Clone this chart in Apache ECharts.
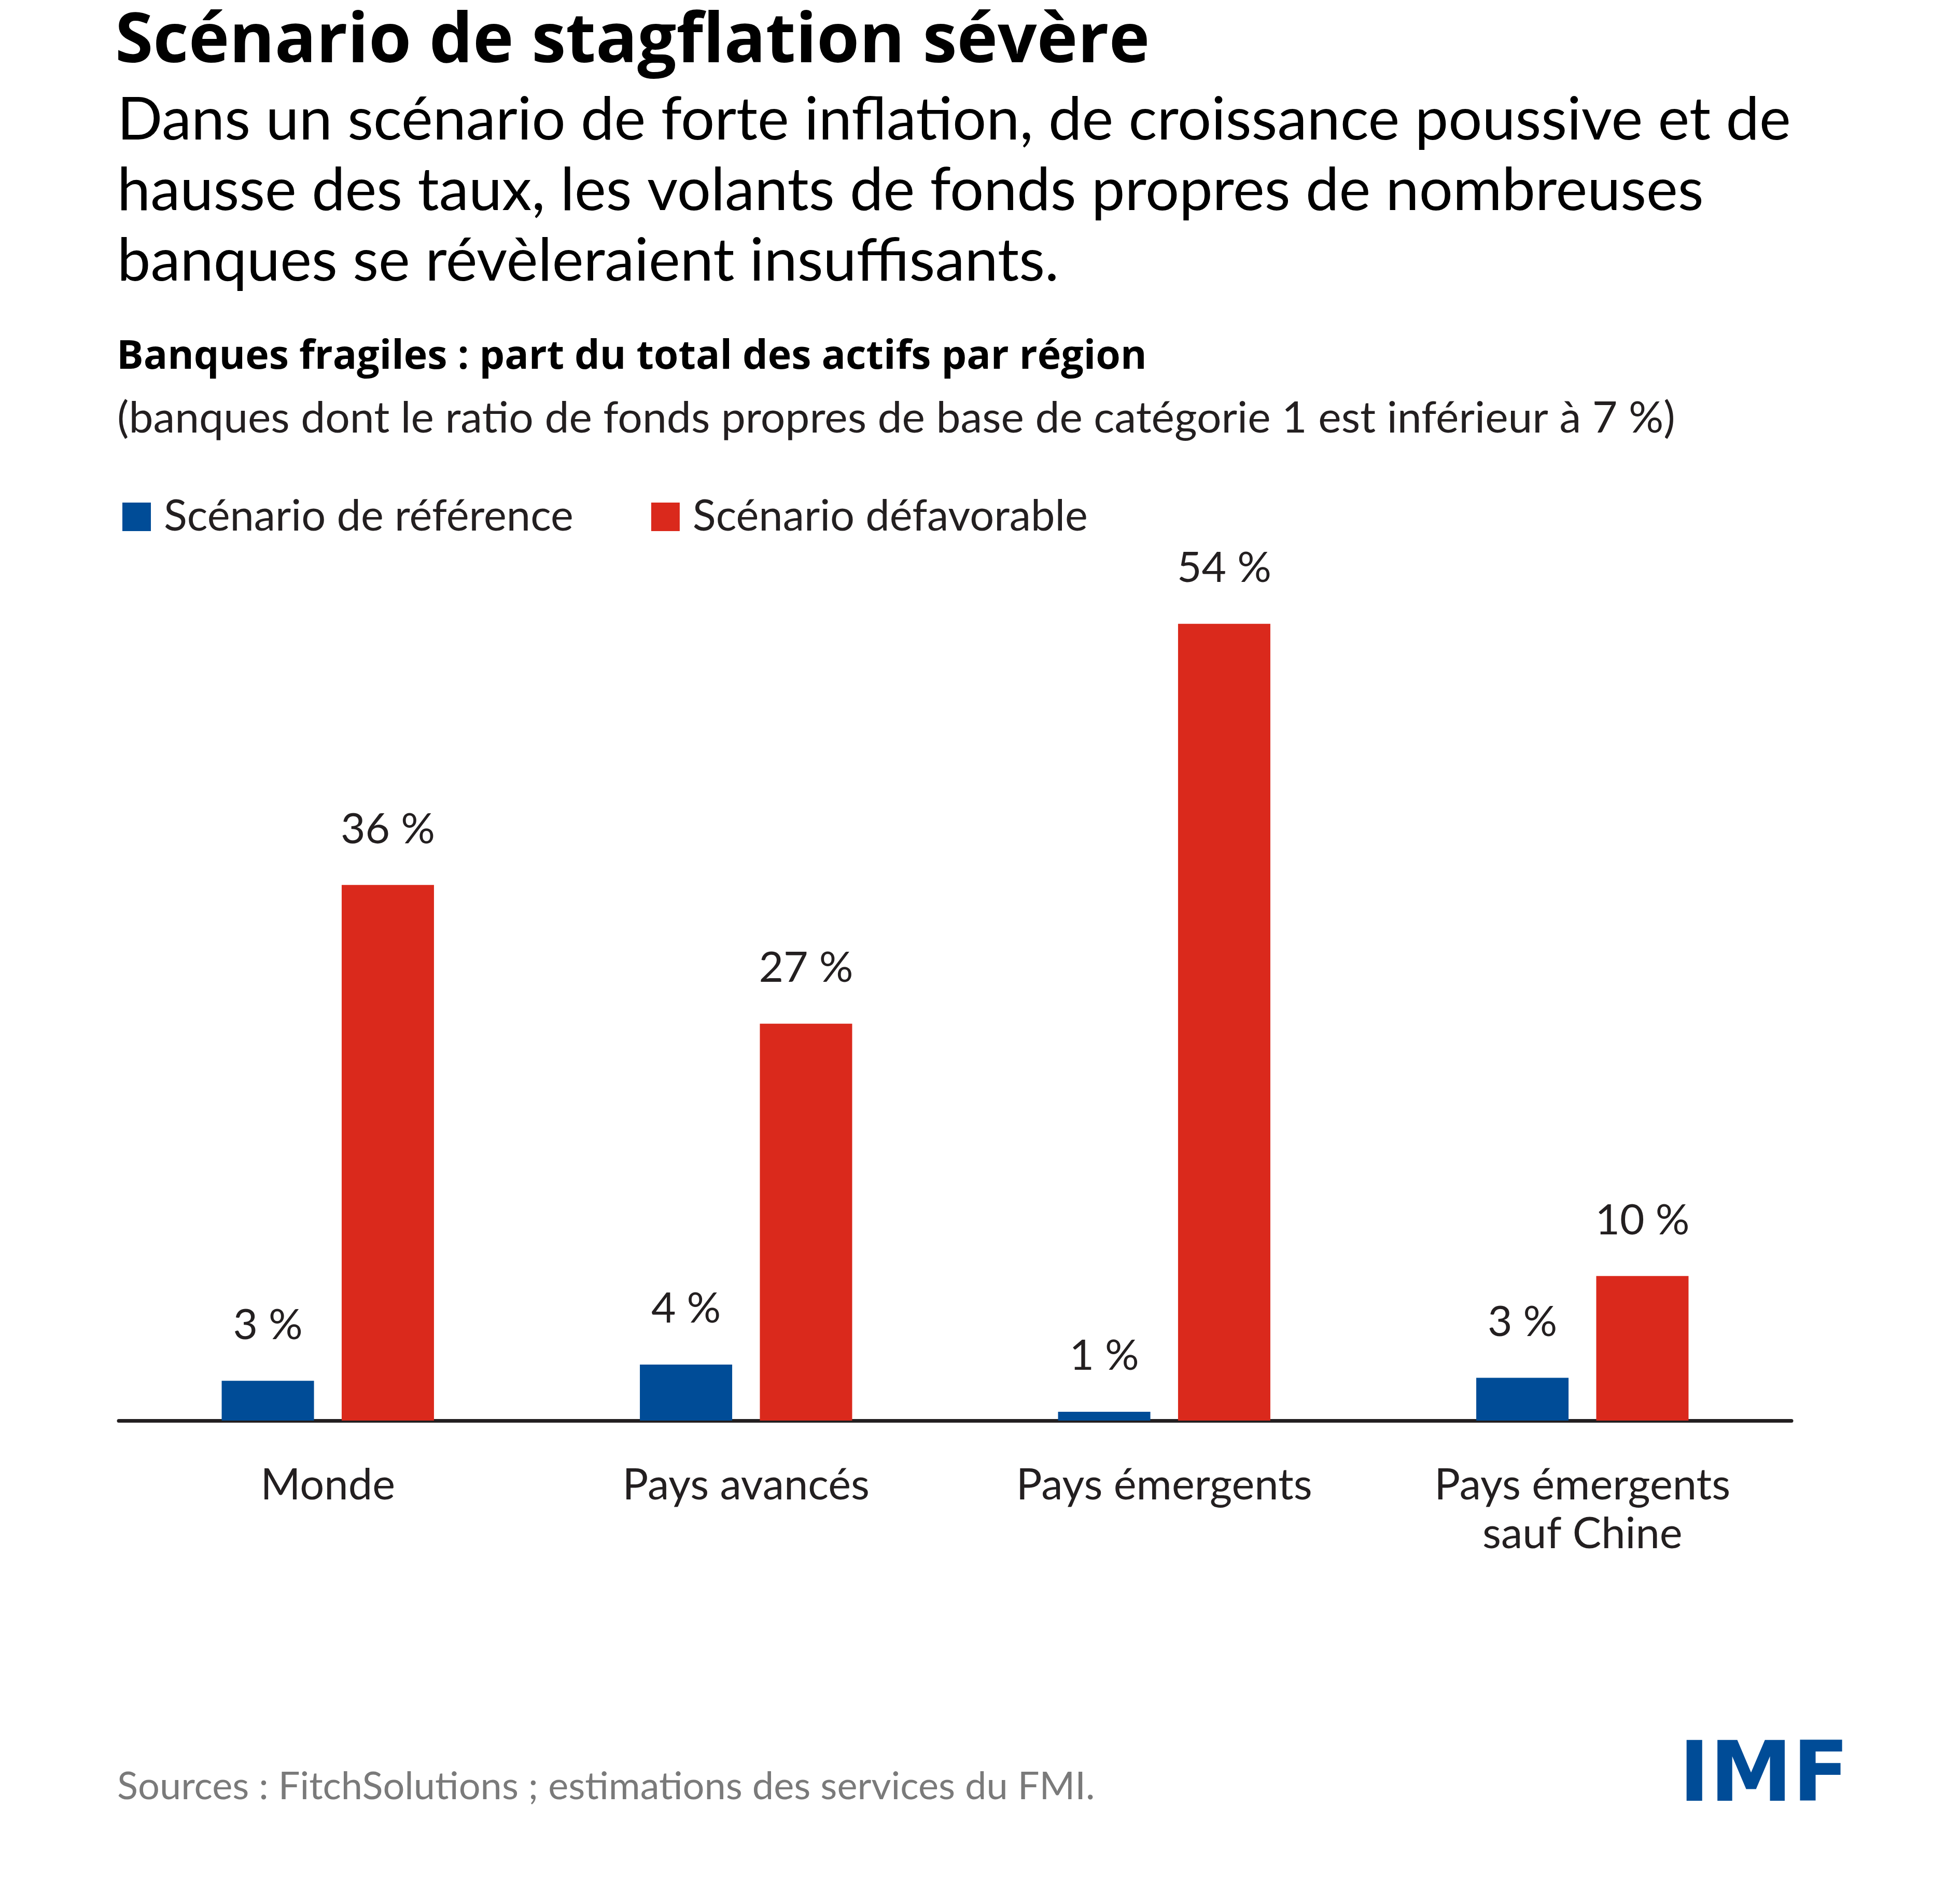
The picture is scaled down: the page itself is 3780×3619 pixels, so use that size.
<!DOCTYPE html>
<html>
<head>
<meta charset="utf-8">
<script src="https://cdn.jsdelivr.net/npm/echarts@6/dist/echarts.min.js"></script>
<style>
html,body{margin:0;padding:0;background:#fff;}
#chart{width:3780px;height:3619px;}
</style>
</head>
<body>
<div id="chart"></div>
<script>
const categories = ['Monde', 'Pays avancés', 'Pays émergents', 'Pays émergents\nsauf Chine'];
const seriesNames = ['Scénario de référence', 'Scénario défavorable'];
const referenceValues = [2.7, 3.8, 0.6, 2.9];
const adverseValues = [36.3, 26.9, 54.0, 9.8];
const referenceLabels = ['3 %', '4 %', '1 %', '3 %'];
const adverseLabels = ['36 %', '27 %', '54 %', '10 %'];

const FONT = 'Lato, "Open Sans", sans-serif';
const BOLDFONT = '"Open Sans", Lato, sans-serif';
const TXT = '#231f20';
const BLUE = '#004c97';
const RED = '#da291c';

const chart = echarts.init(document.getElementById('chart'), null, {renderer: 'canvas'});

const option = {
  backgroundColor: '#ffffff',
  animation: false,
  graphic: [
    {type: 'text', left: 222, top: 16, style: {text: 'Scénario de stagflation sévère', font: 'bold 133px ' + BOLDFONT, fill: '#000'}},
    {type: 'text', left: 226, top: 164, style: {text: 'Dans un scénario de forte inflation, de croissance poussive et de\nhausse des taux, les volants de fonds propres de nombreuses\nbanques se révèleraient insuffisants.', font: '115px ' + FONT, fill: '#000', lineHeight: 136}},
    {type: 'text', left: 225, top: 651, style: {text: 'Banques fragiles : part du total des actifs par région', font: 'bold 77px ' + BOLDFONT, fill: '#000'}},
    {type: 'text', left: 226, top: 765, style: {text: '(banques dont le ratio de fonds propres de base de catégorie 1 est inférieur à 7 %)', font: '84px ' + FONT, fill: TXT}},
    {type: 'text', left: 226, top: 3408, style: {text: 'Sources : FitchSolutions ; estimations des services du FMI.', font: '74px ' + FONT, fill: '#7a7a7a'}},
    {type: 'text', left: 3238, top: 3350, style: {text: 'IMF', font: 'bold 160px "DejaVu Sans", sans-serif', fill: BLUE}}
  ],
  legend: {
    left: 231, top: 950,
    itemWidth: 55, itemHeight: 55, itemGap: 150,
    icon: 'rect',
    textStyle: {fontFamily: FONT, fontSize: 83, color: TXT, padding: [0, 0, 0, 20]},
    data: seriesNames
  },
  grid: {left: 229, right: 3780 - 3455, top: 1032, bottom: 3619 - 2739, containLabel: false},
  xAxis: {
    type: 'category',
    data: categories,
    axisLine: {show: true, lineStyle: {color: TXT, width: 7}},
    axisTick: {show: false},
    axisLabel: {fontFamily: FONT, fontSize: 83, color: TXT, margin: 78, lineHeight: 94, interval: 0}
  },
  yAxis: {type: 'value', min: 0, max: 60, show: false, splitLine: {show: false}},
  series: [
    {
      name: seriesNames[0], type: 'bar', data: referenceValues,
      barWidth: 178, barGap: '30%',
      itemStyle: {color: BLUE},
      label: {show: true, position: 'top', distance: 66, fontFamily: FONT, fontSize: 82, color: TXT,
        formatter: p => referenceLabels[p.dataIndex]}
    },
    {
      name: seriesNames[1], type: 'bar', data: adverseValues,
      barWidth: 178, barGap: '30%',
      itemStyle: {color: RED},
      label: {show: true, position: 'top', distance: 66, fontFamily: FONT, fontSize: 82, color: TXT,
        formatter: p => adverseLabels[p.dataIndex]}
    }
  ]
};
chart.setOption(option);
</script>
</body>
</html>
